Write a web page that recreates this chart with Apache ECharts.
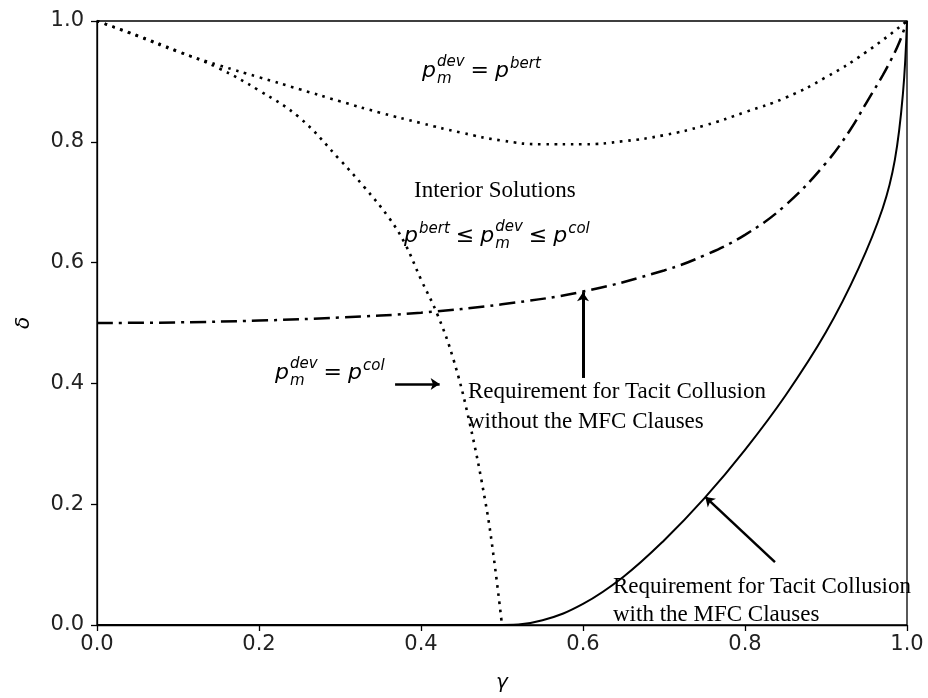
<!DOCTYPE html>
<html>
<head>
<meta charset="utf-8">
<script src="https://cdn.jsdelivr.net/npm/echarts@6/dist/echarts.min.js"></script>
<style>
html, body { margin: 0; padding: 0; background: #fff; }
#main { width: 928px; height: 698px; }
</style>
</head>
<body>
<div id="main"></div>
<script>
// p_m^dev = p^bert boundary (upper dotted curve)
var bertGamma = [0, 0.05, 0.1, 0.15, 0.2, 0.25, 0.3, 0.35, 0.4, 0.45, 0.5, 0.55, 0.6, 0.65, 0.7, 0.75, 0.8, 0.85, 0.9, 0.95, 1.0];
var bertDelta = [1.0, 0.975, 0.949, 0.927, 0.907, 0.887, 0.867, 0.848, 0.831, 0.815, 0.802, 0.796, 0.796, 0.801, 0.811, 0.827, 0.849, 0.873, 0.907, 0.949, 1.0];

// p_m^dev = p^col boundary (steep dotted curve)
var colGamma = [0, 0.05, 0.1, 0.15, 0.2, 0.25, 0.3, 0.33, 0.36, 0.38, 0.4, 0.42, 0.44, 0.46, 0.48, 0.49, 0.5];
var colDelta = [1.0, 0.976, 0.95, 0.922, 0.885, 0.84, 0.77, 0.725, 0.675, 0.632, 0.572, 0.515, 0.44, 0.335, 0.2, 0.11, 0.0];

// tacit collusion without MFC (dash-dot)
var noMfcGamma = [0, 0.1, 0.2, 0.3, 0.4, 0.5, 0.6, 0.7, 0.75, 0.8, 0.85, 0.9, 0.93, 0.95, 0.97, 0.98, 0.99, 1.0];
var noMfcDelta = [0.5, 0.501, 0.504, 0.509, 0.517, 0.531, 0.552, 0.587, 0.612, 0.646, 0.695, 0.765, 0.82, 0.865, 0.91, 0.935, 0.963, 1.0];

// tacit collusion with MFC (solid)
var mfcGamma = [0, 0.25, 0.45, 0.5, 0.55, 0.6, 0.65, 0.7, 0.75, 0.8, 0.85, 0.9, 0.94, 0.97, 0.985, 0.995, 1.0];
var mfcDelta = [0, 0, 0, 0, 0.008, 0.035, 0.08, 0.14, 0.21, 0.29, 0.38, 0.485, 0.59, 0.69, 0.77, 0.88, 1.0];

var xTickLabels = ['0.0', '0.2', '0.4', '0.6', '0.8', '1.0'];
var yTickLabels = ['0.0', '0.2', '0.4', '0.6', '0.8', '1.0'];

// arrows [from, to] in (gamma, delta)
var arrowCol = [[0.368, 0.399], [0.423, 0.399]];
var arrowNoMfc = [[0.6, 0.409], [0.6, 0.551]];
var arrowMfc = [[0.837, 0.104], [0.751, 0.212]];

function pairs(xs, ys) {
    return xs.map(function (x, i) { return [x, ys[i]] })
}

var measureCtx = document.createElement('canvas').getContext('2d');
function textWidth(t, font) {
    measureCtx.font = font;
    return measureCtx.measureText(t).width;
}

var MATH = '"DejaVu Sans"';
var SERIF = '"Liberation Serif"';

function txt(t, x, baseline, font, size) {
    return {
        type: 'text', x: x, y: baseline - 0.34 * size, silent: true,
        style: { text: t, font: font, fill: '#000', textAlign: 'left', textVerticalAlign: 'middle', verticalAlign: 'middle' }
    }
}

// little mathtext-like builder: base + sup/sub, relational operators
function formula(x0, baseline, items) {
    var out = [];
    var x = x0;
    items.forEach(function (it) {
        if (it.op) {
            var f = '22px ' + MATH;
            x += 6;
            out.push(txt(it.op, x, baseline, f, 22));
            x += textWidth(it.op, f) + 6;
        } else {
            var fb = 'italic 22px ' + MATH;
            out.push(txt(it.b, x, baseline, fb, 22));
            x += textWidth(it.b, fb) + 1;
            var fs = 'italic 15px ' + MATH;
            var w = 0;
            if (it.sup) {
                out.push(txt(it.sup, x, baseline - (it.sub ? 12 : 10), fs, 15));
                w = textWidth(it.sup, fs);
            }
            if (it.sub) {
                out.push(txt(it.sub, x, baseline + 5, fs, 15));
                w = Math.max(w, textWidth(it.sub, fs));
            }
            x += w;
        }
    });
    return out;
}

function serif(t, x, baseline) {
    return txt(t, x, baseline, '23px ' + SERIF, 23);
}

var graphics = [].concat(
    formula(422, 79, [{ b: 'p', sup: 'dev', sub: 'm' }, { op: '=' }, { b: 'p', sup: 'bert' }]),
    [serif('Interior Solutions', 414, 199)],
    formula(404, 244, [{ b: 'p', sup: 'bert' }, { op: '≤' }, { b: 'p', sup: 'dev', sub: 'm' }, { op: '≤' }, { b: 'p', sup: 'col' }]),
    formula(275, 381, [{ b: 'p', sup: 'dev', sub: 'm' }, { op: '=' }, { b: 'p', sup: 'col' }]),
    [
        serif('Requirement for Tacit Collusion', 468, 400),
        serif('without the MFC Clauses', 468, 430),
        serif('Requirement for Tacit Collusion', 613, 595),
        serif('with the MFC Clauses', 613, 623)
    ]
);

function arrowLine(a, w) {
    return [{ coord: a[0], lineStyle: { width: w } }, { coord: a[1] }]
}

var axisCommon = {
    type: 'value',
    min: 0,
    max: 1,
    interval: 0.2,
    nameLocation: 'middle',
    nameTextStyle: { fontFamily: 'DejaVu Sans', fontStyle: 'italic', fontSize: 20, color: '#000' },
    axisLine: { show: true, onZero: false, lineStyle: { color: '#000', width: 1.3 } },
    axisTick: { show: true, length: 6, lineStyle: { color: '#000', width: 1.3 } },
    splitLine: { show: false }
};

var chart = echarts.init(document.getElementById('main'));
chart.setOption({
    animation: false,
    backgroundColor: '#fff',
    grid: { left: 97, right: 21, top: 21, bottom: 73, show: true, borderColor: '#000', borderWidth: 1.3 },
    xAxis: Object.assign({}, axisCommon, {
        name: 'γ',
        nameGap: 48,
        axisLabel: {
            fontFamily: 'DejaVu Sans', fontSize: 21, color: '#222', margin: 9,
            formatter: function (v) { return xTickLabels[Math.round(v / 0.2)] }
        }
    }),
    yAxis: Object.assign({}, axisCommon, {
        name: 'δ',
        nameRotate: 90,
        nameGap: 63,
        axisLabel: {
            fontFamily: 'DejaVu Sans', fontSize: 21, color: '#222', margin: 13,
            formatter: function (v) { return yTickLabels[Math.round(v / 0.2)] }
        }
    }),
    series: [
        {
            type: 'line', data: pairs(bertGamma, bertDelta), showSymbol: false, symbol: 'none',
            smooth: 0.5,
            lineStyle: { color: '#000', width: 2.6, type: [2.6, 5.6], cap: 'butt' }
        },
        {
            type: 'line', data: pairs(colGamma, colDelta), showSymbol: false, symbol: 'none',
            smooth: 0.4,
            lineStyle: { color: '#000', width: 2.6, type: [2.6, 5.6], cap: 'butt' }
        },
        {
            type: 'line', data: pairs(noMfcGamma, noMfcDelta), showSymbol: false, symbol: 'none',
            smooth: 0.4,
            lineStyle: { color: '#000', width: 2.5, type: [16, 6, 3, 6] }
        },
        {
            type: 'line', data: pairs(mfcGamma, mfcDelta), showSymbol: false, symbol: 'none',
            smooth: 0.4,
            lineStyle: { color: '#000', width: 2 },
            markLine: {
                silent: true,
                symbol: ['none', 'arrow'],
                symbolSize: 9,
                label: { show: false },
                lineStyle: { color: '#000', type: 'solid', width: 2.5 },
                data: [arrowLine(arrowCol, 2.5), arrowLine(arrowNoMfc, 3), arrowLine(arrowMfc, 2.5)]
            }
        }
    ],
    graphic: { elements: graphics }
});
</script>
</body>
</html>
